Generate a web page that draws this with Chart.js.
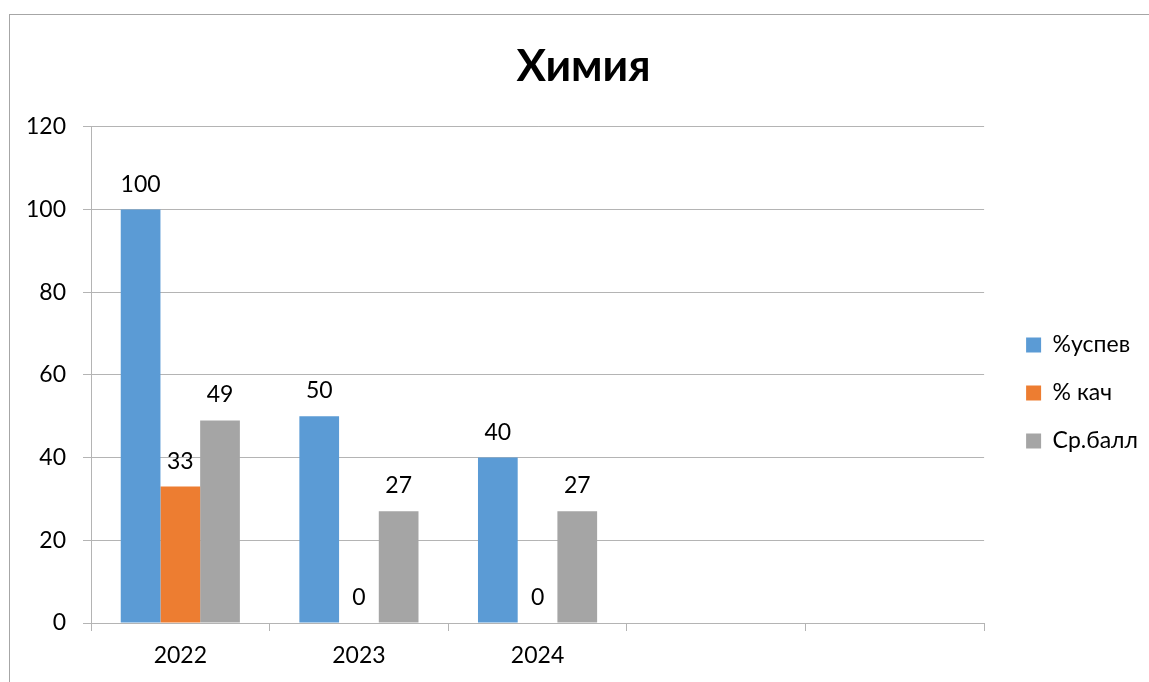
<!DOCTYPE html>
<html>
<head>
<meta charset="utf-8">
<script src="https://cdn.jsdelivr.net/npm/chart.js@4.4.0/dist/chart.umd.min.js"></script>
<style>
  html, body { margin: 0; padding: 0; background: #fff; }
  #chart { display: block; }
</style>
</head>
<body>
<canvas id="chart" width="1149" height="682"></canvas>
<script>
const categories = ['2022', '2023', '2024', '', ''];
const uspev = [100, 50, 40, null, null];
const kach = [33, 0, 0, null, null];
const ball = [49, 27, 27, null, null];
const seriesNames = ['%успев', '% кач', 'Ср.балл'];
const yTicks = [0, 20, 40, 60, 80, 100, 120];

const fontFamily = 'Lato, "Open Sans", sans-serif';
const gridColor = '#b4b4b4';

// frame round the whole picture
const framePlugin = {
  id: 'frame',
  beforeDraw(chart) {
    const ctx = chart.ctx;
    ctx.save();
    ctx.fillStyle = '#fff';
    ctx.fillRect(0, 0, chart.width, chart.height);
    ctx.strokeStyle = '#a6a6a6';
    ctx.lineWidth = 1;
    ctx.strokeRect(9.5, 14.5, chart.width + 20, chart.height + 20);
    ctx.restore();
  }
};

// value labels above the bars
const valueLabels = {
  id: 'valueLabels',
  afterDatasetsDraw(chart) {
    const ctx = chart.ctx;
    ctx.save();
    ctx.font = '23px ' + fontFamily;
    ctx.fillStyle = '#000';
    ctx.textAlign = 'center';
    ctx.textBaseline = 'alphabetic';
    chart.data.datasets.forEach((ds, i) => {
      const meta = chart.getDatasetMeta(i);
      meta.data.forEach((bar, j) => {
        const v = ds.data[j];
        if (v === null || v === undefined) return;
        ctx.fillText(String(v), bar.x, bar.y - 18);
      });
    });
    ctx.restore();
  }
};

new Chart(document.getElementById('chart'), {
  type: 'bar',
  data: {
    labels: categories,
    datasets: [
      { label: seriesNames[0], data: uspev, backgroundColor: '#5b9bd5' },
      { label: seriesNames[1], data: kach, backgroundColor: '#ed7d31' },
      { label: seriesNames[2], data: ball, backgroundColor: '#a5a5a5' }
    ]
  },
  options: {
    responsive: false,
    animation: false,
    devicePixelRatio: 1,
    layout: { padding: { left: 19, right: 1, top: 0, bottom: 0 } },
    datasets: {
      bar: { categoryPercentage: 0.667, barPercentage: 1.0, borderWidth: 0 }
    },
    plugins: {
      title: {
        display: true,
        text: 'Химия',
        color: '#000',
        font: { family: fontFamily, size: 44, weight: 'bold' },
        padding: { top: 40, bottom: 34 }
      },
      legend: {
        display: true,
        position: 'right',
        align: 'center',
        title: {
          display: true,
          text: '',
          font: { size: 10 },
          padding: { top: 92, bottom: 0 }
        },
        labels: {
          boxWidth: 15,
          boxHeight: 15,
          padding: 25,
          color: '#000',
          font: { family: fontFamily, size: 23 }
        }
      },
      tooltip: { enabled: false }
    },
    scales: {
      x: {
        offset: true,
        grid: {
          offset: true,
          drawOnChartArea: false,
          drawTicks: true,
          tickLength: 8,
          color: gridColor
        },
        border: { color: gridColor },
        ticks: {
          color: '#000',
          padding: 11,
          maxRotation: 0,
          font: { family: fontFamily, size: 23 }
        },
        afterFit(scale) { scale.height = 59; }
      },
      y: {
        min: 0,
        max: 120,
        afterBuildTicks(scale) { scale.ticks = yTicks.map(v => ({ value: v })); },
        grid: { color: gridColor, tickLength: 8 },
        border: { color: gridColor },
        ticks: {
          color: '#000',
          padding: 17,
          font: { family: fontFamily, size: 23 }
        },
        afterFit(scale) { scale.width = 72; }
      },
      gap: {
        type: 'linear',
        position: 'right',
        display: true,
        grid: { display: false },
        border: { display: false },
        ticks: { display: false },
        afterFit(scale) { scale.width = 17; }
      }
    }
  },
  plugins: [framePlugin, valueLabels]
});
</script>
</body>
</html>
